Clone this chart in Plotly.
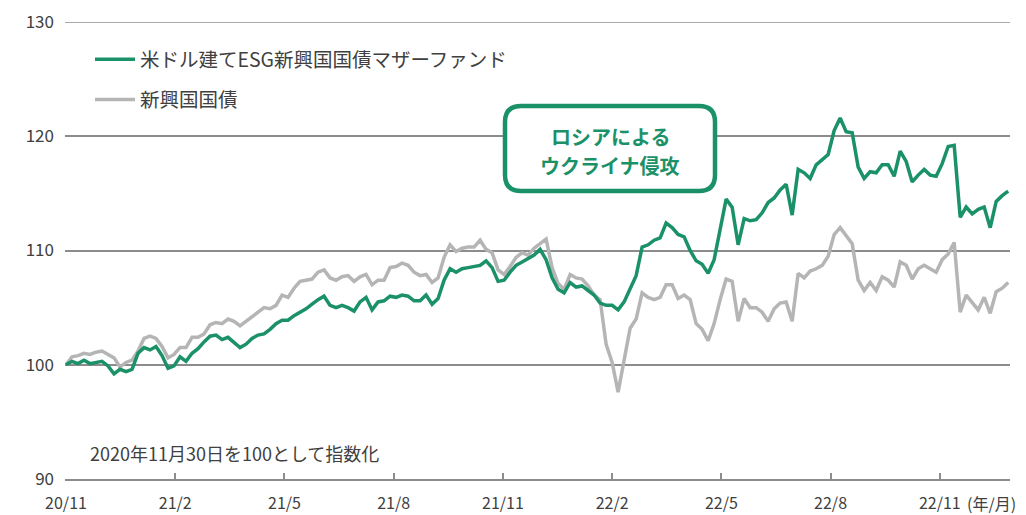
import pandas as pd
import plotly.graph_objects as go

# ---- data (index, 2020-11-30 = 100), sampled every 5 days ----
start_date = "2020-11-30"
fund = [
    100.0, 100.3, 100.1, 100.4, 100.1, 100.2, 100.3, 99.9, 99.2, 99.6,
    99.4, 99.6, 101.0, 101.5, 101.3, 101.6, 100.8, 99.7, 99.9, 100.7,
    100.3, 101.0, 101.4, 102.0, 102.5, 102.6, 102.2, 102.4, 101.9, 101.5,
    101.8, 102.3, 102.6, 102.7, 103.1, 103.6, 103.9, 103.9, 104.3, 104.6,
    104.9, 105.3, 105.7, 106.0, 105.2, 105.0, 105.2, 105.0, 104.7, 105.5,
    105.9, 104.8, 105.5, 105.6, 106.0, 105.9, 106.1, 106.0, 105.6, 105.6,
    106.1, 105.3, 105.8, 107.4, 108.4, 108.1, 108.4, 108.5, 108.6, 108.7,
    109.1, 108.5, 107.3, 107.4, 108.1, 108.7, 109.0, 109.3, 109.6, 110.1,
    109.2, 107.6, 106.6, 106.3, 107.2, 106.8, 106.9, 106.5, 106.1, 105.4,
    105.2, 105.2, 104.8, 105.5, 106.6, 107.8, 110.3, 110.5, 110.9, 111.1,
    112.4, 112.0, 111.4, 111.2, 110.0, 109.1, 108.8, 108.0, 109.2, 111.8,
    114.5, 113.8, 110.5, 112.8, 112.6, 112.7, 113.3, 114.2, 114.6, 115.3,
    115.8, 113.1, 117.1, 116.8, 116.3, 117.5, 118.0, 118.4, 120.5, 121.6,
    120.4, 120.3, 117.3, 116.3, 116.9, 116.8, 117.5, 117.5, 116.5, 118.7,
    117.8, 116.0, 116.6, 117.1, 116.6, 116.5, 117.6, 119.1, 119.2, 112.9,
    113.8, 113.2, 113.6, 113.8, 112.0, 114.3, 114.8, 115.2,
]
em_bond = [
    100.0, 100.7, 100.8, 101.0, 100.9, 101.1, 101.2, 100.9, 100.6, 99.8,
    100.2, 100.4, 101.2, 102.3, 102.5, 102.3, 101.6, 100.6, 100.9, 101.5,
    101.5, 102.4, 102.4, 102.7, 103.5, 103.7, 103.6, 104.0, 103.8, 103.4,
    103.8, 104.2, 104.6, 105.0, 104.9, 105.2, 106.1, 105.9, 106.7, 107.3,
    107.4, 107.5, 108.1, 108.3, 107.6, 107.4, 107.7, 107.8, 107.3, 107.7,
    107.9, 107.0, 107.4, 107.4, 108.5, 108.6, 108.9, 108.7, 108.1, 107.8,
    107.9, 107.2, 107.6, 109.4, 110.5, 109.9, 110.2, 110.3, 110.3, 110.9,
    110.1, 109.8, 108.3, 107.9, 108.6, 109.4, 109.8, 109.6, 110.2, 110.6,
    111.0, 108.5, 107.1, 106.6, 107.9, 107.6, 107.5, 106.9, 106.1, 105.7,
    101.8, 100.2, 97.6, 100.4, 103.2, 104.0, 106.3, 105.9, 105.7, 105.9,
    107.0, 107.0, 105.8, 106.1, 105.7, 103.6, 103.1, 102.1, 103.6, 105.7,
    107.5, 107.3, 103.8, 105.8, 105.0, 105.0, 104.6, 103.8, 104.9, 105.4,
    105.5, 103.8, 108.0, 107.6, 108.2, 108.4, 108.7, 109.5, 111.4, 112.0,
    111.3, 110.6, 107.4, 106.5, 107.2, 106.5, 107.7, 107.4, 106.8, 109.0,
    108.7, 107.5, 108.4, 108.7, 108.4, 108.1, 109.2, 109.7, 110.7, 104.6,
    106.1, 105.4, 104.8, 105.9, 104.5, 106.4, 106.7, 107.2,
]
dates = pd.date_range(start_date, periods=len(fund), freq="5D")

tick_vals = ["2020-11-30", "2021-03-01", "2021-05-31", "2021-08-30", "2021-11-29",
             "2022-02-28", "2022-05-30", "2022-08-29", "2022-11-28"]
tick_text = ["20/11", "21/2", "21/5", "21/8", "21/11", "22/2", "22/5", "22/8", "22/11"]
y_ticks = [90, 100, 110, 120, 130]
y_top = 130

name_fund = "米ドル建てESG新興国国債マザーファンド"
name_bond = "新興国国債"

GREEN = "#1b9168"
GRAY = "#b5b5b5"
TEXT = "#404040"
GRID = "#8c8c8c"
FONT = "Noto Sans CJK JP"

W, H = 1026, 515
ML, MR, MT, MB = 65, 16, 22, 36
PW, PH = W - ML - MR, H - MT - MB

fig = go.Figure()
fig.add_trace(go.Scatter(x=dates, y=em_bond, mode="lines", name=name_bond,
                         line=dict(color=GRAY, width=3.5),
                         legendgroup="b", legendrank=2))
fig.add_trace(go.Scatter(x=dates, y=fund, mode="lines", name=name_fund,
                         line=dict(color=GREEN, width=3.5),
                         legendgroup="a", legendrank=1))


def px_x(p):
    return (p - ML) / PW


def px_y(p):
    return (H - MB - p) / PH


# top gridline (at the plot edge)
fig.add_shape(type="line", xref="paper", yref="y", x0=0, x1=1, y0=y_top, y1=y_top,
              line=dict(color=GRID, width=1.5), layer="below")

# rounded box
x0, x1, y0, y1 = px_x(505), px_x(715), px_y(191), px_y(106)
rx, ry = 16 / PW, 16 / PH
path = (f"M {x0+rx},{y0} L {x1-rx},{y0} Q {x1},{y0} {x1},{y0+ry} "
        f"L {x1},{y1-ry} Q {x1},{y1} {x1-rx},{y1} L {x0+rx},{y1} "
        f"Q {x0},{y1} {x0},{y1-ry} L {x0},{y0+ry} Q {x0},{y0} {x0+rx},{y0} Z")
fig.add_shape(type="path", path=path, xref="paper", yref="paper",
              line=dict(color=GREEN, width=4.5), fillcolor="white", layer="above")

for txt, yy in (("ロシアによる", 136), ("ウクライナ侵攻", 165)):
    fig.add_annotation(x=(x0 + x1) / 2, y=px_y(yy), xref="paper", yref="paper",
                       text=f"<b>{txt}</b>", showarrow=False, yanchor="middle",
                       font=dict(family=FONT, size=20, color=GREEN))
fig.add_annotation(x=px_x(88), y=px_y(453), xref="paper", yref="paper",
                   xanchor="left", yanchor="middle",
                   text="2020年11月30日を100として指数化", showarrow=False,
                   font=dict(family=FONT, size=18, color=TEXT))
fig.add_annotation(x=px_x(965), y=px_y(503), xref="paper", yref="paper",
                   xanchor="left", yanchor="middle",
                   text="(年/月)", showarrow=False,
                   font=dict(family=FONT, size=16, color=TEXT))

fig.update_layout(
    width=W, height=H,
    margin=dict(l=ML, r=MR, t=MT, b=MB, pad=0, autoexpand=False),
    paper_bgcolor="white", plot_bgcolor="white",
    font=dict(family=FONT, size=17, color=TEXT),
    showlegend=True,
    legend=dict(x=px_x(90), y=px_y(40), xanchor="left", yanchor="top",
                font=dict(family=FONT, size=19.5, color=TEXT),
                bgcolor="rgba(0,0,0,0)", traceorder="grouped",
                tracegroupgap=12, itemwidth=40),
    xaxis=dict(type="date", range=["2020-11-29 04:00", "2023-01-25 12:00"],
               tickvals=tick_vals, ticktext=tick_text, showgrid=False,
               showline=True, linecolor=GRID, linewidth=2,
               ticks="inside", ticklen=6, tickwidth=1.5, tickcolor=GRID,
               ticklabelstandoff=9, tickfont=dict(size=16, color=TEXT),
               zeroline=False, fixedrange=True, automargin=False),
    yaxis=dict(range=[90, 130], tickvals=y_ticks, showgrid=True,
               gridcolor=GRID, gridwidth=1.5, zeroline=False, showline=False,
               ticks="", ticklabelstandoff=10, tickfont=dict(size=17, color=TEXT),
               fixedrange=True, automargin=False),
)

fig.write_html("out.html", config={"displayModeBar": False},
               post_script="document.body.style.margin='0';document.body.style.overflow='hidden';")
